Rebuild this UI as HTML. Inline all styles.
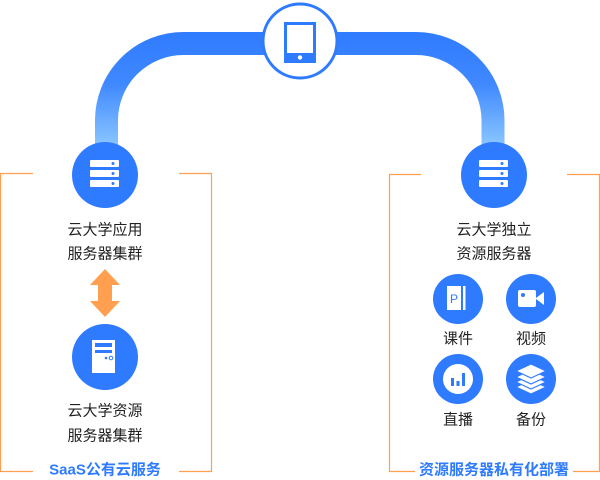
<!DOCTYPE html>
<html><head><meta charset="utf-8"><style>
body{margin:0;width:600px;height:479px;background:#fff;overflow:hidden;position:relative;font-family:"Liberation Sans","Noto Sans CJK SC",sans-serif}
.t{position:absolute;font-size:15px;color:#222;white-space:nowrap;transform:translate(-50%,-50%)}
.b{position:absolute;font-size:15px;font-weight:bold;color:#2f7bff;white-space:nowrap;transform:translate(-50%,-50%);background:#fff;padding:0 4px}
</style></head><body>
<svg width="600" height="479" style="position:absolute;left:0;top:0">
<defs><linearGradient id="g" gradientUnits="userSpaceOnUse" x1="0" y1="30" x2="0" y2="150"><stop offset="0" stop-color="#2f7bff"/><stop offset="0.45" stop-color="#3f88ff"/><stop offset="1" stop-color="#90caff"/></linearGradient></defs>
<path d="M106.5 160 V120 A77 77 0 0 1 183.5 43.5 H416 A77 77 0 0 1 493 120 V160" fill="none" stroke="url(#g)" stroke-width="23"/>
<g stroke="#ff9f4f" stroke-width="1.2" fill="none">
<path d="M33 173.5 H0.5 V471.5 H33"/><path d="M179 173.5 H211.5 V471.5 H179"/>
<path d="M421 174.5 H389.5 V471.5 H421"/><path d="M567 174.5 H599.5 V471.5 H567"/>
</g>
<circle cx="300" cy="41" r="37" fill="#fff" stroke="#2f7bff" stroke-width="3"/>
<rect x="285.5" y="23.5" width="29" height="38" fill="none" stroke="#2f7bff" stroke-width="3"/>
<rect x="285" y="53" width="30" height="9" fill="#2f7bff"/><circle cx="300" cy="57.5" r="2.2" fill="#fff"/>
<g id="srv"><circle cx="105" cy="175" r="33" fill="#2f7bff"/>
<g fill="#fff"><rect x="90" y="160" width="29" height="7" rx="1"/><rect x="90" y="170" width="29" height="7" rx="1"/><rect x="90" y="180" width="29" height="7" rx="1"/></g>
<g fill="#2f7bff"><circle cx="113" cy="163.5" r="1.5"/><circle cx="113" cy="173.5" r="1.5"/><circle cx="113" cy="183.5" r="1.5"/></g></g>
<use href="#srv" x="389"/>
<path d="M105 269 L120 285 H112 V301 H120 L105 317 L90 301 H98 V285 H90 Z" fill="#ff9f4f"/>
<circle cx="105" cy="357" r="33" fill="#2f7bff"/>
<rect x="92" y="340" width="23" height="33" fill="#fff"/>
<rect x="95" y="343" width="17" height="4" fill="#2f7bff"/><rect x="95" y="350" width="17" height="3" fill="#2f7bff"/>
<circle cx="106" cy="358" r="1.3" fill="#2f7bff"/><circle cx="111" cy="358" r="1.8" fill="none" stroke="#2f7bff"/>
<g fill="#2f7bff"><circle cx="458" cy="299" r="25"/><circle cx="531" cy="299" r="25"/><circle cx="458" cy="379" r="25"/><circle cx="531" cy="379" r="25"/></g>
<rect x="447" y="286" width="14" height="24" fill="#fff"/><rect x="463" y="286" width="2.5" height="24" fill="#fff"/>
<text x="454" y="303" font-size="12" fill="#2f7bff" text-anchor="middle" font-family="Liberation Sans">P</text>
<rect x="518" y="290" width="18" height="17" rx="2" fill="#fff"/><path d="M536 298 L544 292 V305 L536 299Z" fill="#fff"/><circle cx="523" cy="295" r="2" fill="#2f7bff"/>
<circle cx="458" cy="379" r="15" fill="#fff"/>
<g fill="#2f7bff"><rect x="451" y="378" width="3" height="8"/><rect x="456.5" y="381" width="3" height="5"/><rect x="462" y="373" width="3" height="13"/></g>
<g fill="#fff" stroke="#2f7bff" stroke-width="1.2"><path d="M531 380 L546 387 L531 394 L516 387Z"/><path d="M531 375 L546 382 L531 389 L516 382Z"/><path d="M531 370 L546 377 L531 384 L516 377Z"/><path d="M531 364 L546 371 L531 378 L516 371Z"/></g>
</svg>
<div class="t" style="left:105px;top:229px">云大学应用</div>
<div class="t" style="left:105px;top:253px">服务器集群</div>
<div class="t" style="left:105px;top:410px">云大学资源</div>
<div class="t" style="left:105px;top:435px">服务器集群</div>
<div class="t" style="left:494px;top:229px">云大学独立</div>
<div class="t" style="left:494px;top:253px">资源服务器</div>
<div class="t" style="left:458px;top:338px">课件</div>
<div class="t" style="left:531px;top:338px">视频</div>
<div class="t" style="left:458px;top:419px">直播</div>
<div class="t" style="left:531px;top:419px">备份</div>
<div class="b" style="left:105px;top:469px">SaaS公有云服务</div>
<div class="b" style="left:494px;top:469px">资源服务器私有化部署</div>
</body></html>
